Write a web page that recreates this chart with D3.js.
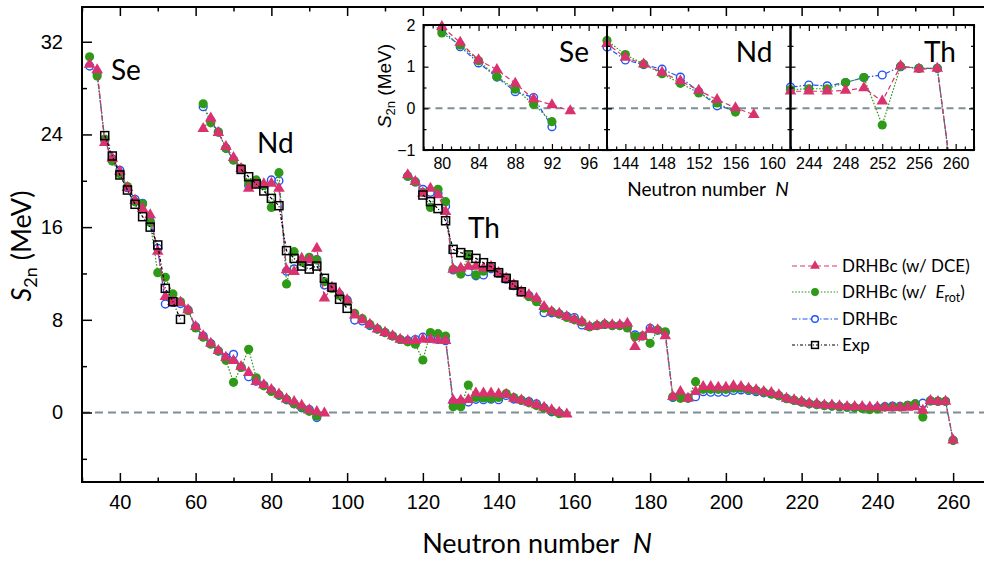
<!DOCTYPE html>
<html><head><meta charset="utf-8">
<script src="https://cdn.jsdelivr.net/npm/d3@7"></script>
<style>body{margin:0;background:#fff}svg{display:block}</style>
</head><body>
<svg id="c" width="984" height="563"></svg>
<script>
// ---------------- DATA ----------------
const seN = [32,34,36,38,40,42,44,46,48,50,52,54,56,58,60,62,64,66,68,70,72,74,76,78,80,82,84,86,88,90,92,94];
const seDCE = [30.05,29.56,23.3,21.94,20.8,19.4,18.3,17.6,17.05,13.9,10.0,9.56,9.5,8.85,7.4,6.6,5.97,5.33,4.76,4.47,3.95,3.43,2.66,2.37,1.96,1.58,1.16,0.93,0.6,0.22,0.08,-0.06];
const seRot = [30.7,29.04,23.6,21.7,20.6,19.5,18.2,18.0,16.4,12.07,11.67,10.23,9.56,8.8,7.3,6.5,5.9,5.3,4.5,2.6,3.9,5.45,3.0,2.3,1.81,1.52,1.14,0.76,0.46,0.1,-0.32];
const seDRHBc = [29.9,29.3,23.5,21.9,20.9,19.4,18.4,18.06,16.5,14.17,9.36,9.5,9.4,8.85,7.4,6.6,5.95,5.3,4.75,5.02,3.9,3.09,2.7,2.35,1.9,1.48,1.09,0.75,0.4,0.26,-0.44];
const seExpN = [36,38,40,42,44,46,48,50,52,54,56];
const seExp = [23.9,22.14,20.5,19.2,17.97,16.9,16.0,14.46,10.72,9.56,8.04];

const ndN = [62,64,66,68,70,72,74,76,78,80,82,84,86,88,90,92,94,96,98,100,102,104,106,108,110,112,114,116,118,120,122,124,126,128,130,132,134,136,138,140,142,144,146,148,150,152,154,156,158];
const ndDCE = [24.5,25.4,24.15,22.94,22.0,21.05,19.35,19.7,19.72,19.78,19.35,12.3,12.15,13.3,13.16,14.17,9.86,10.8,10.3,9.71,8.4,8.0,7.6,7.2,6.9,6.6,6.3,6.2,6.2,6.3,6.3,6.25,6.2,1.04,1.04,1.1,1.66,1.66,1.66,1.6,1.55,1.22,1.06,0.86,0.66,0.43,0.21,0.01,-0.15];
const ndRot = [26.65,25.0,24.2,22.8,21.8,21.1,19.8,20.07,19.6,17.7,20.7,11.09,13.88,13.0,13.4,13.16,11.29,10.7,10.1,9.6,8.55,8.1,7.6,7.2,6.9,6.6,6.3,6.1,5.9,4.53,6.9,6.8,6.6,0.5,0.5,2.37,1.3,1.25,1.2,1.3,1.63,1.29,1.06,0.83,0.6,0.37,0.13,-0.09];
const ndDRHBc = [26.4,25.2,24.2,22.8,21.8,21.0,19.6,19.8,19.6,20.07,20.0,12.2,12.4,13.1,13.1,13.2,11.0,10.8,10.2,9.7,7.98,7.9,7.5,7.2,6.9,6.6,6.3,6.2,6.3,6.5,6.4,6.3,6.2,0.9,0.9,0.9,1.14,1.1,1.15,1.1,1.47,1.16,1.05,0.94,0.75,0.4,0.06,-0.05];
const ndExpN = [72,74,76,78,80,82,84,86,88,90,92,94,96,98,100];
const ndExp = [20.98,20.35,19.72,19.12,18.48,17.85,13.97,13.3,12.64,12.38,12.64,11.58,10.8,9.77,8.99];

const thN = [116,118,120,122,124,126,128,130,132,134,136,138,140,142,144,146,148,150,152,154,156,158,160,162,164,166,168,170,172,174,176,178,180,182,184,186,188,190,192,194,196,198,200,202,204,206,208,210,212,214,216,218,220,222,224,226,228,230,232,234,236,238,240,242,244,246,248,250,252,254,256,258,260];
const thDCE = [20.5,19.92,18.92,19.35,18.77,17.33,12.36,12.45,12.6,12.6,12.45,12.58,12.07,11.58,11.0,10.42,10.14,9.85,9.13,8.7,8.56,8.27,8.04,7.84,7.4,7.5,7.6,7.55,7.55,7.69,5.68,6.54,7.18,7.12,6.6,1.36,1.8,1.22,1.79,2.23,2.23,2.17,2.17,2.29,2.23,2.08,1.94,1.79,1.7,1.51,1.22,1.08,0.93,0.79,0.73,0.64,0.64,0.56,0.5,0.5,0.5,0.45,0.45,0.41,0.41,0.41,0.43,0.49,0.17,1.02,0.94,0.96,-2.38];
const thRot = [20.4,19.9,19.0,17.7,19.26,18.2,12.36,11.95,13.5,11.87,12.2,12.5,12.0,11.6,11.0,10.4,9.99,9.56,9.0,8.7,8.5,8.2,8.0,7.8,7.4,7.5,7.6,7.5,7.5,7.3,6.54,6.6,5.97,7.12,6.97,1.36,1.22,1.22,2.66,2.0,2.0,2.0,2.0,2.1,2.1,2.0,1.9,1.75,1.6,1.45,1.2,1.05,0.9,0.75,0.68,0.6,0.55,0.5,0.45,0.42,0.35,0.25,0.3,0.45,0.47,0.47,0.62,0.74,-0.4,1.01,0.96,0.96,-2.4];
const thDRHBc = [20.4,19.9,19.26,19.0,18.9,17.8,12.3,12.3,12.15,11.8,11.87,12.4,12.0,11.5,10.95,10.4,10.1,9.7,8.61,8.6,8.5,8.3,8.2,7.55,7.4,7.5,7.6,7.5,7.5,7.5,6.7,6.6,7.27,7.1,6.9,1.3,1.3,1.25,1.36,1.8,1.75,1.75,1.75,1.9,1.95,1.9,1.8,1.7,1.6,1.45,1.2,1.05,0.9,0.75,0.68,0.6,0.55,0.5,0.45,0.42,0.4,0.35,0.4,0.51,0.56,0.54,0.62,0.74,0.8,1.0,0.96,0.96,-2.4];
const thExpN = [120,122,124,126,128,130,132,134,136,138,140,142,144,146];
const thExp = [18.77,18.2,17.6,16.55,14.08,13.8,13.6,13.3,12.93,12.58,12.07,11.58,11.0,10.42];

const xMajor = [40,60,80,100,120,140,160,180,200,220,240,260];
const xMinor = [30,50,70,90,110,130,150,170,190,210,230,250,270];
const yMajor = [0,8,16,24,32];
const yMinor = [-4,4,12,20,28];
const seriesNames = ["DRHBc (w/ DCE)","DRHBc (w/ Erot)","DRHBc","Exp"];
const elements = ["Se","Nd","Th"];
const insetDomains = [[78,98],[142,162],[242,262]];
const insetTicks = [[80,84,88,92,96],[144,148,152,156,160],[244,248,252,256,260]];

// ---------------- STYLE ----------------
const C = {dce:"#d9326f", rot:"#2f9a17", drhbc:"#2153f5", exp:"#000"};
const DASH = {dce:"5,3", rot:"1.6,1.6", drhbc:"5,2,1.5,2", exp:"3,2,1,2"};
const fNum = "'Liberation Sans', Arial, sans-serif";
const fTxt = "Lato, 'Open Sans', sans-serif";

const svg = d3.select("#c");
const x = d3.scaleLinear().domain([30,270]).range([82,991]);
const y = d3.scaleLinear().domain([-6,35]).range([482,7]);

const pair = (Ns, vs) => vs.map((v,i)=>({N:Ns[i], v}));
const chains = [
  {name:"Se", dce:pair(seN,seDCE), rot:pair(seN,seRot), drhbc:pair(seN,seDRHBc), exp:pair(seExpN,seExp)},
  {name:"Nd", dce:pair(ndN,ndDCE), rot:pair(ndN,ndRot), drhbc:pair(ndN,ndDRHBc), exp:pair(ndExpN,ndExp)},
  {name:"Th", dce:pair(thN,thDCE), rot:pair(thN,thRot), drhbc:pair(thN,thDRHBc), exp:pair(thExpN,thExp)}
];

function marker(g, type, cx, cy, s) {
  s = s || 1;
  if (type === "dce") {
    g.append("path").attr("d", d3.symbol(d3.symbolTriangle, 58*s*s)())
      .attr("transform", `translate(${cx},${cy})`).attr("fill", C.dce);
  } else if (type === "rot") {
    g.append("circle").attr("cx",cx).attr("cy",cy).attr("r",4.6*s).attr("fill",C.rot);
  } else if (type === "drhbc") {
    g.append("circle").attr("cx",cx).attr("cy",cy).attr("r",3.9*s).attr("fill","#fff")
      .attr("stroke",C.drhbc).attr("stroke-width",1.4);
  } else {
    const h = 4*s;
    g.append("rect").attr("x",cx-h).attr("y",cy-h).attr("width",2*h).attr("height",2*h)
      .attr("fill","none").attr("stroke","#000").attr("stroke-width",1.5);
  }
}

function drawSeries(g, data, type, xs, ys, clip, keep) {
  const line = d3.line().x(d=>xs(d.N)).y(d=>ys(d.v));
  const lp = g.append("path").datum(data).attr("d", line).attr("fill","none")
    .attr("stroke", C[type]).attr("stroke-width",1.2).attr("stroke-dasharray", DASH[type]);
  if (clip) lp.attr("clip-path", `url(#${clip})`);
  const mg = g.append("g");
  data.filter(keep || (()=>true)).forEach(d => marker(mg, type, xs(d.N), ys(d.v)));
}

// zero line
svg.append("line").attr("x1",x(30)).attr("x2",984).attr("y1",y(0)).attr("y2",y(0))
  .attr("stroke","#7d8e95").attr("stroke-width",2).attr("stroke-dasharray","8,5");

// axes
function styleAxis(g){ g.select(".domain").remove();
  g.selectAll("line").attr("stroke","#000").attr("stroke-width",1.5);
  g.selectAll("text").attr("font-size",20).attr("font-family",fNum).attr("fill","#000"); }
svg.append("g").attr("transform",`translate(0,482)`)
  .call(d3.axisBottom(x).tickValues(xMajor).tickSize(-9).tickPadding(13).tickFormat(d3.format("d"))).call(styleAxis);
svg.append("g").attr("transform",`translate(0,482)`)
  .call(d3.axisBottom(x).tickValues(xMinor).tickSize(-4.5).tickFormat("")).call(styleAxis);
svg.append("g").attr("transform",`translate(0,7)`)
  .call(d3.axisTop(x).tickValues(xMajor).tickSize(-9).tickFormat("")).call(styleAxis);
svg.append("g").attr("transform",`translate(0,7)`)
  .call(d3.axisTop(x).tickValues(xMinor).tickSize(-4.5).tickFormat("")).call(styleAxis);
svg.append("g").attr("transform",`translate(82,0)`)
  .call(d3.axisLeft(y).tickValues(yMajor).tickSize(-10).tickPadding(19)).call(styleAxis);
svg.append("g").attr("transform",`translate(82,0)`)
  .call(d3.axisLeft(y).tickValues(yMinor).tickSize(-5).tickFormat("")).call(styleAxis);
svg.append("path").attr("d",`M991,7H82V482H991`).attr("fill","none").attr("stroke","#000").attr("stroke-width",2);

// main data
const order = ["drhbc","rot","dce","exp"];
const gMain = svg.append("g");
chains.forEach(ch => order.forEach(t => drawSeries(gMain, ch[t], t, x, y)));

// element labels main
const lblPos = [[111,80],[257,153],[468,238]];
elements.forEach((e,i)=> svg.append("text").attr("x",lblPos[i][0]).attr("y",lblPos[i][1])
  .attr("font-family",fTxt).attr("font-size",28).text(e));

// axis titles
const xt = svg.append("text").attr("x",537).attr("y",553).attr("text-anchor","middle")
  .attr("font-family",fTxt).attr("font-size",27);
xt.append("tspan").text("Neutron number\u00a0\u00a0");
xt.append("tspan").attr("font-style","italic").text("N");
const yt = svg.append("text").attr("transform","translate(31,246) rotate(-90)").attr("text-anchor","middle")
  .attr("font-family",fTxt).attr("font-size",27);
yt.append("tspan").attr("font-style","italic").text("S");
yt.append("tspan").attr("font-size",18).attr("dy",6).text("2n");
yt.append("tspan").attr("dy",-6).text(" (MeV)");

// legend
const lg = svg.append("g");
const legRows = [{t:"dce",y:266},{t:"rot",y:292},{t:"drhbc",y:319},{t:"exp",y:345}];
legRows.forEach((r,i) => {
  lg.append("line").attr("x1",792).attr("x2",838).attr("y1",r.y).attr("y2",r.y)
    .attr("stroke",C[r.t]).attr("stroke-width",1.2).attr("stroke-dasharray",DASH[r.t]);
  marker(lg, r.t, 815, r.y, 0.85);
  const tx = lg.append("text").attr("x",842).attr("y",r.y+6).attr("font-family",fTxt).attr("font-size",17);
  if (r.t === "rot") {
    tx.append("tspan").text("DRHBc (w/\u00a0\u00a0");
    tx.append("tspan").attr("font-style","italic").text("E");
    tx.append("tspan").attr("font-size",12.5).attr("dy",4).text("rot");
    tx.append("tspan").attr("dy",-4).text(")");
  } else tx.text(seriesNames[i]);
});

// ---------------- INSET ----------------
const IL = 423.5, IPW = 183.5, IT = 25, IB = 150;
const iy = d3.scaleLinear().domain([-1,2]).range([IB,IT]);
const defs = svg.append("defs");
insetDomains.forEach((dom,i) => {
  const x0 = IL + i*IPW, x1 = x0 + IPW;
  const px = d3.scaleLinear().domain(dom).range([x0,x1]);
  const g = svg.append("g");
  const cid = "clip"+i;
  defs.append("clipPath").attr("id",cid).append("rect").attr("x",x0).attr("y",IT).attr("width",IPW).attr("height",IB-IT);
  g.append("line").attr("x1",x0).attr("x2",x1).attr("y1",iy(0)).attr("y2",iy(0))
    .attr("stroke","#7d8e95").attr("stroke-width",2).attr("stroke-dasharray","7,5");
  const ch = chains[i];
  ["drhbc","rot","dce"].forEach(t => {
    const dd = ch[t].filter(d => d.N >= dom[0]-2 && d.N <= dom[1]+2);
    drawSeries(g, dd, t, px, iy, cid, d => d.N >= dom[0] && d.N <= dom[1] && d.v >= -1.05 && d.v <= 2.05);
  });
  // ticks
  const minor = d3.range(dom[0], dom[1]+1).filter(n => !insetTicks[i].includes(n));
  const ax = (gen, ty) => g.append("g").attr("transform",`translate(0,${ty})`).call(gen)
    .call(a=>{a.select(".domain").remove(); a.selectAll("line").attr("stroke","#000").attr("stroke-width",1.2);
      a.selectAll("text").attr("font-size",16).attr("font-family",fNum).attr("fill","#000");});
  ax(d3.axisBottom(px).tickValues(insetTicks[i]).tickSize(-6).tickPadding(8).tickFormat(d3.format("d")), IB);
  ax(d3.axisBottom(px).tickValues(minor).tickSize(-3.5).tickFormat(""), IB);
  ax(d3.axisTop(px).tickValues(insetTicks[i]).tickSize(-6).tickFormat(""), IT);
  ax(d3.axisTop(px).tickValues(minor).tickSize(-3.5).tickFormat(""), IT);
  const yl = d3.axisLeft(iy).tickValues([-1,0,1,2]).tickSize(-5).tickPadding(8).tickFormat(d3.format("d"));
  const ylG = g.append("g").attr("transform",`translate(${x0},0)`).call(yl);
  ylG.select(".domain").remove(); ylG.selectAll("line").attr("stroke","#000").attr("stroke-width",1.2);
  ylG.selectAll("text").attr("font-size",16).attr("font-family",fNum).attr("fill","#000");
  if (i>0) ylG.selectAll("text").remove();
  g.append("g").attr("transform",`translate(${x0},0)`).call(d3.axisLeft(iy).tickValues([-0.5,0.5,1.5]).tickSize(-3).tickFormat(""))
    .call(a=>{a.select(".domain").remove(); a.selectAll("line").attr("stroke","#000").attr("stroke-width",1.2);});
  g.append("g").attr("transform",`translate(${x1},0)`).call(d3.axisRight(iy).tickValues([-1,0,1,2]).tickSize(-5).tickFormat(""))
    .call(a=>{a.select(".domain").remove(); a.selectAll("line").attr("stroke","#000").attr("stroke-width",1.2);});
  g.append("g").attr("transform",`translate(${x1},0)`).call(d3.axisRight(iy).tickValues([-0.5,0.5,1.5]).tickSize(-3).tickFormat(""))
    .call(a=>{a.select(".domain").remove(); a.selectAll("line").attr("stroke","#000").attr("stroke-width",1.2);});
  g.append("rect").attr("x",x0).attr("y",IT).attr("width",IPW).attr("height",IB-IT)
    .attr("fill","none").attr("stroke","#000").attr("stroke-width",2);
  g.append("text").attr("x",x1-18).attr("y",62).attr("text-anchor","end")
    .attr("font-family",fTxt).attr("font-size",28).text(elements[i]);
});
const ixt = svg.append("text").attr("x",708).attr("y",196).attr("text-anchor","middle")
  .attr("font-family",fTxt).attr("font-size",19);
ixt.append("tspan").text("Neutron number\u00a0\u00a0");
ixt.append("tspan").attr("font-style","italic").text("N");
const iyt = svg.append("text").attr("transform","translate(391,86) rotate(-90)").attr("text-anchor","middle")
  .attr("font-family",fNum).attr("font-size",19);
iyt.append("tspan").attr("font-style","italic").text("S");
iyt.append("tspan").attr("font-size",13).attr("dy",4).text("2n");
iyt.append("tspan").attr("dy",-4).text(" (MeV)");
</script>
</body></html>
